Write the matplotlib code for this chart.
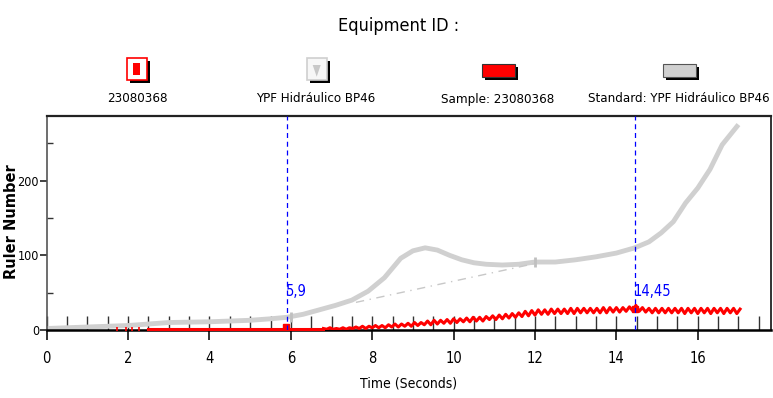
import numpy as np
import matplotlib
matplotlib.use('Agg')
import matplotlib.pyplot as plt
from matplotlib.patches import Rectangle, Polygon

NARROW = ['DejaVu Sans']
ST = 'condensed'

# ---- data ----
standard_t = [0, 0.5, 1, 1.5, 2, 2.5, 3, 4, 5, 5.5, 5.9, 6.3, 6.7, 7.1, 7.5, 7.9, 8.3, 8.7,
              9.0, 9.3, 9.6, 9.9, 10.2, 10.5, 10.8, 11.2, 11.6, 12.0, 12.5, 13.0, 13.5, 14.0,
              14.45, 14.8, 15.1, 15.4, 15.7, 16.0, 16.3, 16.6, 17.0]
standard_v = [2, 3, 4, 5, 6, 8, 10, 11, 13, 15, 17, 21, 27, 33, 40, 52, 70, 96,
              106, 110, 107, 100, 94, 90, 88, 87, 88, 91, 91, 94, 98, 103,
              110, 118, 130, 145, 170, 190, 215, 248, 275]
baseline_t = [7.6, 12.0]
baseline_v = [37, 89]
standard_marks_t = [6.0, 12.0]
standard_marks_v = [18, 91]

sample_base_t = [2.5, 6.8]
sample_base_v = [1.5, 1.5]
sample_dots_t = [1.72, 1.95, 2.1, 2.28]
sample_dots_v = [1, 2, 2, 1.5]
sample_osc_v = [2, 1, 3, 1, 2, 1, 3, 1, 3, 2, 4,
                2, 5, 2, 5, 3, 6, 3, 6, 3, 7,
                4, 8, 4, 8, 5, 9, 5, 10, 6, 10,
                7, 12, 7, 13, 8, 13, 9, 14, 9, 15,
                10, 15, 11, 16, 11, 17, 12, 17, 12, 18,
                14, 19, 14, 20, 15, 21, 16, 22, 17, 23,
                18, 25, 19, 26, 20, 27, 21, 27, 21, 28,
                22, 28, 22, 28, 22, 29, 22, 29, 23, 29,
                23, 29, 23, 29, 23, 30, 23, 30, 24, 30,
                24, 30, 25, 31, 26, 33, 25, 30, 24, 29,
                23, 29, 23, 29, 23, 29, 23, 29, 23, 29,
                22, 29, 23, 29, 22, 29, 23, 29, 22, 29,
                23, 29, 22, 29, 23, 29, 22, 28]
sample_osc_t = 6.8 + 0.08 * np.arange(len(sample_osc_v))
sample_marks_t = [5.88, 14.45]
sample_marks_v = [4, 28]

cursor_t = [5.9, 14.45]
cursor_labels = ['5,9', '14,45']

legend_labels = ['23080368', 'YPF Hidráulico BP46', 'Sample: 23080368',
                 'Standard: YPF Hidráulico BP46']
x_ticks = [0, 2, 4, 6, 8, 10, 12, 14, 16]
y_ticks = [0, 100, 200]

RED = '#ff0000'
GRAY = '#d0d0d0'
BLUE = '#0000ff'

W, H = 773, 398
fig = plt.figure(figsize=(W / 100, H / 100), dpi=100)


def fx(x):
    return x / W


def fy(y):
    return 1 - y / H


ax = fig.add_axes([fx(46.7), fy(330), fx(771) - fx(46.7), fy(116) - fy(330)])

# series
ax.plot(standard_t, standard_v, color=GRAY, lw=3.5, solid_capstyle='butt', zorder=2)
ax.plot(baseline_t, baseline_v, color='#c8c8c8', lw=1, ls=(0, (6, 4, 1, 4)), zorder=2)
ax.plot(standard_marks_t, standard_marks_v, ls='none', marker='|', ms=7, mew=2,
        color='#c0c0c0', zorder=2)
ax.plot(sample_base_t, sample_base_v, color=RED, lw=2.2, zorder=3, clip_on=False)
ax.plot(sample_dots_t, sample_dots_v, ls='none', marker='|', ms=3, mew=1.2,
        color=RED, zorder=3)
ax.plot(sample_osc_t, sample_osc_v, color=RED, lw=2.2, zorder=3)
ax.plot(sample_marks_t, sample_marks_v, ls='none', marker='s', ms=5, color=RED, zorder=3)

# cursors
for t, lab in zip(cursor_t, cursor_labels):
    ax.axvline(t, color=BLUE, lw=0.9, ls=(0, (4, 3)), zorder=4)
    ax.text(t - 0.03, 52, lab, color=BLUE, fontsize=10.5, family=NARROW, fontstretch=ST,
            ha='left', va='center', zorder=5)

ax.set_xlim(0, 17.8)
ax.set_ylim(0, 286.5)

ax.set_xticks(x_ticks)
ax.set_xticklabels([str(v) for v in x_ticks], family=NARROW, fontstretch=ST, fontsize=10.5)
ax.set_xticks(np.arange(0, 17.8, 0.5), minor=True)
ax.xaxis.remove_overlapping_locs = False
ax.tick_params(axis='x', which='major', direction='out', length=7, width=1.3,
               color='#222222', pad=8)
ax.tick_params(axis='x', which='minor', direction='in', length=10, width=1,
               color='#333333')

ax.set_yticks(y_ticks)
ax.set_yticklabels([str(v) for v in y_ticks], family=NARROW, fontstretch=ST, fontsize=9)
ax.set_yticks([50, 150, 250], minor=True)
ax.tick_params(axis='y', which='major', direction='out', length=5, width=1.2,
               color='#222222', pad=0.5)
ax.tick_params(axis='y', which='minor', direction='in', length=4, width=1,
               color='#333333')

ax.spines['bottom'].set_linewidth(1.8)
ax.spines['bottom'].set_color('black')
ax.spines['top'].set_linewidth(1.6)
ax.spines['top'].set_color('#222222')
ax.spines['right'].set_linewidth(1.4)
ax.spines['right'].set_color('#333333')
ax.spines['left'].set_linewidth(1.2)
ax.spines['left'].set_color('#555555')

ax.set_xlabel('Time (Seconds)', family=NARROW, fontstretch=ST, fontsize=10, labelpad=8)
fig.text(fx(12), fy(222), 'Ruler Number', rotation=90, fontsize=10.5,
         fontweight='bold', family='DejaVu Sans', ha='center', va='center')

# title
fig.text(fx(399), fy(31), 'Equipment ID :', family=NARROW, fontstretch=ST, fontsize=13,
         ha='center', va='baseline')


# legend (drawn in pixel space)
def rect(x0, y0, x1, y1, **kw):
    fig.add_artist(Rectangle((fx(x0), fy(y1)), fx(x1) - fx(x0), fy(y0) - fy(y1),
                             transform=fig.transFigure, **kw))


# 1: sample marker
rect(129.7, 61.3, 149.7, 83, facecolor='black', edgecolor='none')
rect(126.7, 58.3, 146.7, 80, facecolor='white', edgecolor=RED, lw=1.2)
rect(133, 63, 140, 75, facecolor=RED, edgecolor='none')
# 2: standard marker
rect(309.7, 61, 329.7, 83, facecolor='black', edgecolor='none')
rect(306.7, 58, 326.7, 80, facecolor='#f7f7f7', edgecolor='#cfcfcf', lw=1.2)
fig.add_artist(Polygon([(fx(312.7), fy(65)), (fx(320.7), fy(65)), (fx(316.7), fy(76.7))],
                       closed=True, transform=fig.transFigure,
                       facecolor='#c8c8c8', edgecolor='none'))
# 3: sample line
rect(484.7, 67.3, 518, 79.7, facecolor='black', edgecolor='none')
rect(481.7, 64.3, 515, 76.7, facecolor=RED, edgecolor='#333333', lw=0.8)
# 4: standard line
rect(665.7, 67, 699, 79.7, facecolor='black', edgecolor='none')
rect(662.7, 64, 696, 76.7, facecolor=GRAY, edgecolor='#555555', lw=0.8)

for cx, lab in zip([137, 316, 498, 679], legend_labels):
    fig.text(fx(cx), fy(99), lab, family=NARROW, fontstretch=ST, fontsize=9.5,
             ha='center', va='center')

fig.savefig('out.png', dpi=100)
